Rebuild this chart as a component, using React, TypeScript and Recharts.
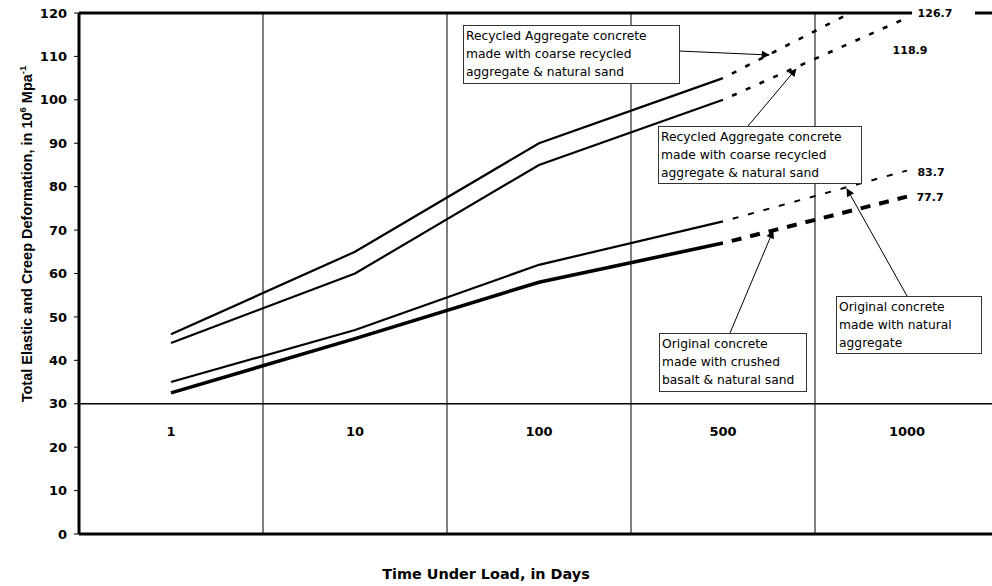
import React from 'react';
import {
  LineChart,
  Line,
  XAxis,
  YAxis,
  ReferenceLine,
  ReferenceDot,
  LabelList,
} from 'recharts';

const DAYS = ['1', '10', '100', '500', '1000'];
const Y_TICKS = [0, 10, 20, 30, 40, 50, 60, 70, 80, 90, 100, 110, 120];
const GRID_BOUNDS = [0.5, 1.5, 2.5, 3.5];

// measured (solid) part and projected (dashed) part of each curve
const RA_COARSE_1 = [46, 65, 90, 105, null];
const RA_COARSE_1_PROJ = [null, null, null, 105, 126.7];
const RA_COARSE_2 = [44, 60, 85, 100, null];
const RA_COARSE_2_PROJ = [null, null, null, 100, 118.9];
const OC_NATURAL = [35, 47, 62, 72, null];
const OC_NATURAL_PROJ = [null, null, null, 72, 83.7];
const OC_BASALT = [32.5, 45, 58, 67, null];
const OC_BASALT_PROJ = [null, null, null, 67, 77.7];

const data = DAYS.map((day, i) => ({
  idx: i,
  day,
  ra1: RA_COARSE_1[i],
  ra1p: RA_COARSE_1_PROJ[i],
  ra2: RA_COARSE_2[i],
  ra2p: RA_COARSE_2_PROJ[i],
  ocn: OC_NATURAL[i],
  ocnp: OC_NATURAL_PROJ[i],
  ocb: OC_BASALT[i],
  ocbp: OC_BASALT_PROJ[i],
}));

const WIDE = 'DejaVu Sans';
const ARIAL = 'Liberation Sans, Arial, sans-serif';

// value label at the end of a projection, nudged like in the original
const endLabel = (target: number | null, dx: number, dy: number, bg = false) => (props: any) => {
  const { value } = props;
  if (value !== target) return null;
  const px = props.x ?? props.viewBox?.x;
  const py = props.y ?? props.viewBox?.y;
  if (px == null || py == null) return null;
  const cx = px + dx;
  const cy = py + dy;
  return (
    <g>
      {bg && <rect x={cx - 23} y={cy - 8} width={63} height={16} fill="#fff" />}
      <text
        x={cx}
        y={cy + 4}
        textAnchor="middle"
        fontFamily={WIDE}
        fontSize={11}
        fontWeight={700}
        fill="#000"
      >
        {value}
      </text>
    </g>
  );
};

const dayLabel = (text: string) => (props: any) => {
  const vb = props.viewBox || {};
  return (
    <text
      x={vb.x}
      y={vb.y + 32}
      textAnchor="middle"
      fontFamily={WIDE}
      fontSize={13}
      fontWeight={700}
      fill="#000"
    >
      {text}
    </text>
  );
};

const callouts = [
  {
    x: 463, y: 25, w: 216, h: 58,
    lines: ['Recycled Aggregate concrete', 'made with coarse recycled', 'aggregate & natural sand'],
    from: [679, 51], to: [769, 55],
  },
  {
    x: 658, y: 126, w: 203, h: 57,
    lines: ['Recycled Aggregate concrete', 'made with coarse recycled', 'aggregate & natural sand'],
    from: [748, 126], to: [796, 69],
  },
  {
    x: 659, y: 333, w: 147, h: 58,
    lines: ['Original concrete', 'made with crushed', 'basalt & natural sand'],
    from: [730, 333], to: [773, 231],
  },
  {
    x: 836, y: 296, w: 145, h: 57,
    lines: ['Original concrete', 'made with natural', 'aggregate'],
    from: [907, 296], to: [847, 189],
  },
];

export default function App() {
  return (
    <div
      style={{
        position: 'fixed',
        left: 0,
        top: 0,
        width: 992,
        height: 586,
        overflow: 'hidden',
        background: '#fff',
      }}
    >
      <LineChart
        width={1012}
        height={586}
        data={data}
        margin={{ top: 13, right: 13, bottom: 0, left: 0 }}
      >
        <XAxis
          type="number"
          dataKey="idx"
          domain={[-0.5, 4.5]}
          ticks={[0, 1, 2, 3, 4]}
          tick={false}
          tickLine={false}
          axisLine={{ stroke: '#000', strokeWidth: 3 }}
          height={52}
        />
        <YAxis
          type="number"
          domain={[0, 120]}
          ticks={Y_TICKS}
          allowDataOverflow
          width={79}
          interval={0}
          tickSize={5}
          tickMargin={7}
          axisLine={{ stroke: '#000', strokeWidth: 3 }}
          tickLine={{ stroke: '#000' }}
          tick={{ fill: '#000', fontSize: 13, fontWeight: 700, fontFamily: WIDE }}
        />
        <ReferenceLine y={120} stroke="#000" strokeWidth={3} />
        <ReferenceLine y={30} stroke="#000" strokeWidth={1.5} />
        {GRID_BOUNDS.map((b) => (
          <ReferenceLine key={b} x={b} stroke="#000" strokeWidth={1} />
        ))}
        {DAYS.map((d, i) => (
          <ReferenceDot
            key={d}
            x={i}
            y={30}
            r={0}
            fill="none"
            stroke="none"
            label={{ content: dayLabel(d) }}
          />
        ))}

        <Line type="linear" dataKey="ra1" stroke="#000" strokeWidth={2.2} dot={false} isAnimationActive={false} />
        <Line type="linear" dataKey="ra2" stroke="#000" strokeWidth={2.2} dot={false} isAnimationActive={false} />
        <Line type="linear" dataKey="ocn" stroke="#000" strokeWidth={2.2} dot={false} isAnimationActive={false} />
        <Line type="linear" dataKey="ocb" stroke="#000" strokeWidth={3.6} dot={false} isAnimationActive={false} />

        <Line
          type="linear"
          dataKey="ra1p"
          stroke="#000"
          strokeWidth={2.6}
          strokeDasharray="5 10"
          strokeDashoffset={5}
          dot={false}
          isAnimationActive={false}
        >
          <LabelList dataKey="ra1p" content={endLabel(RA_COARSE_1_PROJ[4], 28, 29, true)} />
        </Line>
        <Line
          type="linear"
          dataKey="ra2p"
          stroke="#000"
          strokeWidth={2.6}
          strokeDasharray="5 10"
          strokeDashoffset={5}
          dot={false}
          isAnimationActive={false}
        >
          <LabelList dataKey="ra2p" content={endLabel(RA_COARSE_2_PROJ[4], 3, 32)} />
        </Line>
        <Line
          type="linear"
          dataKey="ocnp"
          stroke="#000"
          strokeWidth={2}
          strokeDasharray="6 10"
          strokeDashoffset={6}
          dot={false}
          isAnimationActive={false}
        >
          <LabelList dataKey="ocnp" content={endLabel(OC_NATURAL_PROJ[4], 24, 1)} />
        </Line>
        <Line
          type="linear"
          dataKey="ocbp"
          stroke="#000"
          strokeWidth={4}
          strokeDasharray="10 9"
          strokeDashoffset={10}
          dot={false}
          isAnimationActive={false}
        >
          <LabelList dataKey="ocbp" content={endLabel(OC_BASALT_PROJ[4], 23, 0)} />
        </Line>
      </LineChart>

      <svg
        width={992}
        height={586}
        style={{ position: 'absolute', left: 0, top: 0, pointerEvents: 'none' }}
      >
        <defs>
          <marker id="arrow" viewBox="0 0 10 10" refX="9" refY="5" markerWidth="10" markerHeight="8" orient="auto" markerUnits="userSpaceOnUse">
            <path d="M0,0 L10,5 L0,10 z" fill="#000" />
          </marker>
        </defs>

        {callouts.map((c, k) => (
          <g key={k}>
            <line
              x1={c.from[0]}
              y1={c.from[1]}
              x2={c.to[0]}
              y2={c.to[1]}
              stroke="#000"
              strokeWidth={1}
              markerEnd="url(#arrow)"
            />
            <rect x={c.x + 0.5} y={c.y + 0.5} width={c.w} height={c.h} fill="#fff" stroke="#333" strokeWidth={1} />
            {c.lines.map((ln, j) => (
              <text
                key={j}
                x={c.x + 3}
                y={c.y + 14.5 + j * 18}
                fontFamily={WIDE}
                fontSize={12.3}
                fill="#000"
              >
                {ln}
              </text>
            ))}
          </g>
        ))}

        <text
          transform="translate(32, 234) rotate(-90)"
          textAnchor="middle"
          fontFamily={ARIAL}
          fontSize={14.5}
          fontWeight={700}
          fill="#000"
        >
          Total Elastic and Creep Deformation, in 10
          <tspan dy={-6} fontSize={9.5}>6</tspan>
          <tspan dy={6}> Mpa</tspan>
          <tspan dy={-6} fontSize={9.5}>-1</tspan>
        </text>

        <text
          x={486}
          y={579}
          textAnchor="middle"
          fontFamily={WIDE}
          fontSize={14.4}
          fontWeight={700}
          fill="#000"
        >
          Time Under Load, in Days
        </text>
      </svg>
    </div>
  );
}
